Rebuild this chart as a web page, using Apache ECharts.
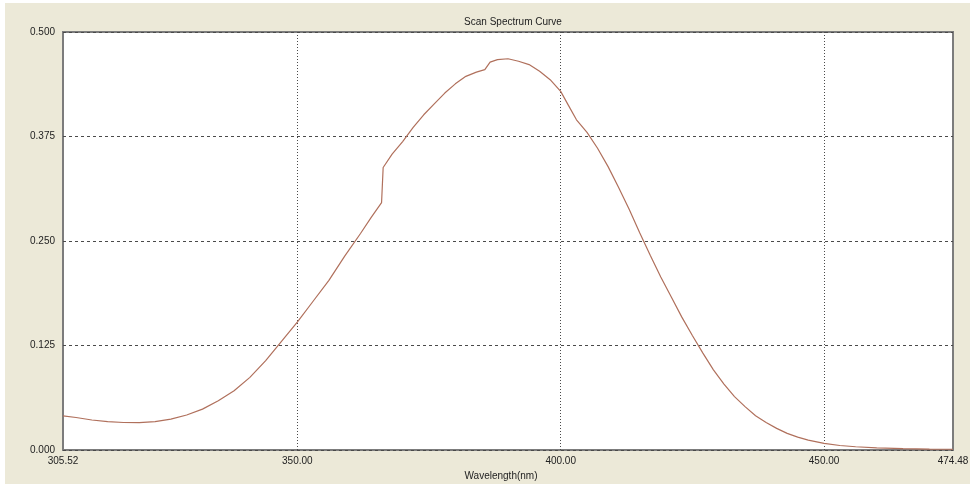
<!DOCTYPE html>
<html>
<head>
<meta charset="utf-8">
<script src="https://cdn.jsdelivr.net/npm/echarts@6/dist/echarts.min.js"></script>
<style>
  html, body { margin: 0; padding: 0; background: #ffffff; }
  #bg { position: absolute; left: 5px; top: 3px; width: 965px; height: 481px; background: #ECE9D8; }
  #chart { position: absolute; left: 0; top: 0; width: 975px; height: 486px; }
</style>
</head>
<body>
<div id="bg"></div>
<div id="chart"></div>
<script>
// ---- data ----
const chartTitle = 'Scan Spectrum Curve';
const xAxisName = 'Wavelength(nm)';
const xMin = 305.52;
const xMax = 474.48;
const xLabelValues = [305.52, 350, 400, 450, 474.48];
const xGridValues = [350, 400, 450];
const yTicks = [0, 0.125, 0.25, 0.375, 0.5];

const wavelength = [
  305.52, 308, 311, 314, 317, 320, 323, 326, 329, 332,
  335, 338, 341, 344, 347, 350, 353, 356, 359, 362,
  364, 366, 366.3, 368, 370, 372, 374, 376, 378, 380,
  382, 384, 385.6, 386.6, 388, 390, 392, 394, 396, 398,
  400, 401.5, 403, 405, 407, 409, 411, 413, 415, 417,
  419, 421, 423, 425, 427, 429, 431, 433, 435, 437,
  439, 441, 443, 445, 447, 450, 453, 456, 460, 465,
  470, 474.48
];
const absorbance = [
  0.041, 0.039, 0.036, 0.034, 0.033, 0.0328, 0.034, 0.037, 0.042, 0.049,
  0.059, 0.071, 0.087, 0.107, 0.130, 0.153, 0.178, 0.203, 0.232, 0.259,
  0.278, 0.296, 0.338, 0.354, 0.369, 0.386, 0.401, 0.414, 0.427, 0.438,
  0.447, 0.452, 0.455, 0.464, 0.467, 0.468, 0.465, 0.461, 0.453, 0.443,
  0.429, 0.412, 0.395, 0.380, 0.361, 0.339, 0.314, 0.288, 0.260, 0.233,
  0.207, 0.183, 0.159, 0.137, 0.116, 0.096, 0.079, 0.064, 0.052, 0.041,
  0.033, 0.026, 0.020, 0.0155, 0.012, 0.008, 0.0055, 0.004, 0.0027, 0.0017,
  0.0012, 0.001
];

const seriesData = wavelength.map((w, i) => [w, absorbance[i]]);
const font = 'Liberation Sans, Arial, sans-serif';

const chart = echarts.init(document.getElementById('chart'), null, { renderer: 'canvas' });
chart.setOption({
  backgroundColor: 'transparent',
  animation: false,
  title: {
    text: chartTitle,
    left: 508, top: 12,
    textAlign: 'center',
    textStyle: { fontFamily: font, fontSize: 10, fontWeight: 'normal', color: '#222' }
  },
  grid: {
    left: 63, top: 32, width: 890, height: 420,
    show: true, backgroundColor: '#ffffff',
    borderColor: '#7c7c7c', borderWidth: 2
  },
  xAxis: {
    type: 'value',
    min: xMin, max: xMax,
    name: xAxisName,
    nameLocation: 'middle',
    nameGap: 19,
    nameTextStyle: { fontFamily: font, fontSize: 10, color: '#222', padding: [0, 14, 0, 0] },
    axisLine: { show: false },
    axisTick: { show: false, customValues: xGridValues },
    axisLabel: {
      customValues: xLabelValues,
      formatter: v => v.toFixed(2),
      fontFamily: font, fontSize: 10, color: '#222', margin: 6
    },
    splitLine: { show: true, lineStyle: { color: '#4a4a4a', type: [1, 2], width: 1 } }
  },
  yAxis: {
    type: 'value',
    min: yTicks[0], max: yTicks[yTicks.length - 1], interval: 0.125,
    axisLine: { show: false },
    axisTick: { show: false },
    axisLabel: {
      formatter: v => v.toFixed(3),
      fontFamily: font, fontSize: 10, color: '#222', margin: 8
    },
    splitLine: { show: true, lineStyle: { color: '#4a4a4a', type: [3, 3], width: 1 } }
  },
  series: [{
    type: 'line',
    data: seriesData,
    showSymbol: false,
    smooth: false,
    lineStyle: { color: '#b0705c', width: 1.2 },
    z: 5
  }]
});
</script>
</body>
</html>
